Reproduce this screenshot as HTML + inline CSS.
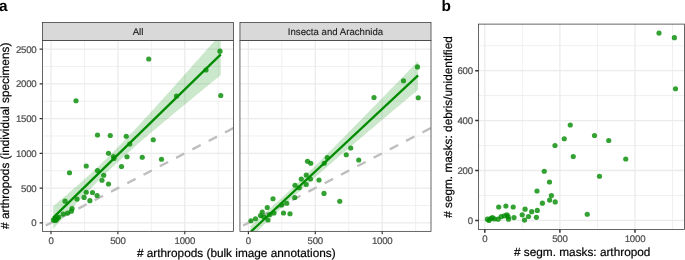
<!DOCTYPE html>
<html lang="en"><head><meta charset="utf-8"><title>Figure</title>
<style>html,body{margin:0;padding:0;background:#fff}body{width:685px;height:260px;overflow:hidden}svg{display:block}text{font-family:"Liberation Sans", Arial, Helvetica, sans-serif;text-rendering:geometricPrecision}.t{font-size:9.65px;fill:#4d4d4d;stroke:#4d4d4d;stroke-width:0.22px;letter-spacing:-0.2px}.s{font-size:9.65px;fill:#1a1a1a;stroke:#1a1a1a;stroke-width:0.12px}.a{font-size:11.8px;fill:#000;stroke:#000;stroke-width:0.2px}.p{font-size:15.4px;font-weight:bold;fill:#000}</style></head><body>
<svg width="685" height="260" viewBox="0 0 685 260">
<rect width="685" height="260" fill="#fff"/>
<clipPath id="ca1"><rect x="42.5" y="40.5" width="191" height="190.85"/></clipPath>
<g clip-path="url(#ca1)">
<rect x="42.5" y="40.5" width="191" height="190.85" fill="#fff"/>
<path d="M84.45,40.5V231.35M151.35,40.5V231.35M218.25,40.5V231.35M42.5,205.43H233.5M42.5,170.69H233.5M42.5,135.95H233.5M42.5,101.21H233.5M42.5,66.47H233.5" stroke="#ebebeb" stroke-width="0.75" fill="none"/>
<path d="M51,40.5V231.35M117.9,40.5V231.35M184.8,40.5V231.35M42.5,222.8H233.5M42.5,188.06H233.5M42.5,153.32H233.5M42.5,118.58H233.5M42.5,83.84H233.5M42.5,49.1H233.5" stroke="#ebebeb" stroke-width="1.3" fill="none"/>
<path d="M45.8,225.5L233.5,128.03" stroke="#bebebe" stroke-width="2.35" stroke-dasharray="9.4 8.95" fill="none"/>
<path d="M53.2,206.26 L56.69,203.31 L60.18,200.35 L63.68,197.37 L67.17,194.38 L70.66,191.37 L74.15,188.33 L77.64,185.27 L81.13,182.18 L84.62,179.06 L88.12,175.91 L91.61,172.71 L95.1,169.48 L98.59,166.2 L102.08,162.87 L105.58,159.5 L109.07,156.08 L112.56,152.61 L116.05,149.09 L119.54,145.53 L123.03,141.92 L126.53,138.28 L130.02,134.6 L133.51,130.89 L137,127.16 L140.49,123.39 L143.98,119.61 L147.48,115.8 L150.97,111.98 L154.46,108.14 L157.95,104.29 L161.44,100.43 L164.93,96.56 L168.43,92.67 L171.92,88.78 L175.41,84.88 L178.9,80.97 L182.39,77.06 L185.88,73.14 L189.38,69.22 L192.87,65.29 L196.36,61.36 L199.85,57.43 L203.34,53.49 L206.83,49.55 L210.33,45.6 L213.82,41.65 L217.31,37.71 L220.8,33.75 L220.8,75.05 L217.31,77.89 L213.82,80.75 L210.33,83.6 L206.83,86.45 L203.34,89.31 L199.85,92.17 L196.36,95.04 L192.87,97.91 L189.38,100.78 L185.88,103.66 L182.39,106.54 L178.9,109.43 L175.41,112.32 L171.92,115.22 L168.43,118.13 L164.93,121.04 L161.44,123.97 L157.95,126.91 L154.46,129.86 L150.97,132.82 L147.48,135.8 L143.98,138.79 L140.49,141.81 L137,144.84 L133.51,147.91 L130.02,151 L126.53,154.12 L123.03,157.28 L119.54,160.47 L116.05,163.71 L112.56,166.99 L109.07,170.32 L105.58,173.7 L102.08,177.13 L98.59,180.6 L95.1,184.12 L91.61,187.69 L88.12,191.29 L84.62,194.94 L81.13,198.62 L77.64,202.33 L74.15,206.07 L70.66,209.83 L67.17,213.62 L63.68,217.43 L60.18,221.25 L56.69,225.09 L53.2,228.94Z" fill="#008b00" fill-opacity="0.2"/>
<g fill="#008b00" fill-opacity="0.8">
<circle cx="148.75" cy="59" r="2.6"/>
<circle cx="220" cy="51.2" r="2.6"/>
<circle cx="76" cy="100.75" r="2.6"/>
<circle cx="206" cy="70" r="2.6"/>
<circle cx="176.5" cy="96" r="2.6"/>
<circle cx="220.75" cy="95.5" r="2.6"/>
<circle cx="97.5" cy="135" r="2.6"/>
<circle cx="110.25" cy="135.5" r="2.6"/>
<circle cx="126.25" cy="136.25" r="2.6"/>
<circle cx="153.25" cy="139.75" r="2.6"/>
<circle cx="129.75" cy="144" r="2.6"/>
<circle cx="108.5" cy="153.25" r="2.6"/>
<circle cx="113.5" cy="156.5" r="2.6"/>
<circle cx="114" cy="158.5" r="2.6"/>
<circle cx="127" cy="156.75" r="2.6"/>
<circle cx="142.25" cy="157.25" r="2.6"/>
<circle cx="161.5" cy="159.25" r="2.6"/>
<circle cx="86.25" cy="166" r="2.6"/>
<circle cx="121.5" cy="166.5" r="2.6"/>
<circle cx="69.5" cy="172.75" r="2.6"/>
<circle cx="97.5" cy="170.5" r="2.6"/>
<circle cx="103.75" cy="175.25" r="2.6"/>
<circle cx="102" cy="180.25" r="2.6"/>
<circle cx="108.5" cy="184" r="2.6"/>
<circle cx="86.25" cy="192.25" r="2.6"/>
<circle cx="92.5" cy="192.5" r="2.6"/>
<circle cx="97.1" cy="195.5" r="2.6"/>
<circle cx="65.1" cy="201.2" r="2.6"/>
<circle cx="77" cy="199.1" r="2.6"/>
<circle cx="84.1" cy="197.4" r="2.6"/>
<circle cx="89.9" cy="200.7" r="2.6"/>
<circle cx="72.1" cy="208.5" r="2.6"/>
<circle cx="71.4" cy="211.2" r="2.6"/>
<circle cx="67.6" cy="213.1" r="2.6"/>
<circle cx="63.2" cy="214" r="2.6"/>
<circle cx="58.8" cy="217" r="2.6"/>
<circle cx="56.3" cy="219.7" r="2.6"/>
<circle cx="53.4" cy="219.9" r="2.6"/>
<circle cx="54.8" cy="218.8" r="2.6"/>
<circle cx="57.5" cy="218.2" r="2.6"/>
<circle cx="55.3" cy="220.4" r="2.6"/>
</g>
<path d="M53.2,217.6L220.8,54.4" stroke="#008b00" stroke-width="2.3" fill="none"/>
</g>
<rect x="42.5" y="40.5" width="191" height="190.85" fill="none" stroke="#333333" stroke-width="0.75"/>
<clipPath id="ca2"><rect x="239.95" y="40.5" width="191.05" height="190.85"/></clipPath>
<g clip-path="url(#ca2)">
<rect x="239.95" y="40.5" width="191.05" height="190.85" fill="#fff"/>
<path d="M281.85,40.5V231.35M348.75,40.5V231.35M415.65,40.5V231.35M239.95,205.43H431M239.95,170.69H431M239.95,135.95H431M239.95,101.21H431M239.95,66.47H431" stroke="#ebebeb" stroke-width="0.75" fill="none"/>
<path d="M248.4,40.5V231.35M315.3,40.5V231.35M382.2,40.5V231.35M239.95,222.8H431M239.95,188.06H431M239.95,153.32H431M239.95,118.58H431M239.95,83.84H431M239.95,49.1H431" stroke="#ebebeb" stroke-width="1.3" fill="none"/>
<path d="M243.25,225.47L431,127.98" stroke="#bebebe" stroke-width="2.35" stroke-dasharray="9.4 8.95" fill="none"/>
<path d="M250.5,225.86 L253.99,222.81 L257.48,219.74 L260.98,216.65 L264.47,213.55 L267.96,210.43 L271.45,207.29 L274.94,204.12 L278.43,200.93 L281.93,197.72 L285.42,194.47 L288.91,191.21 L292.4,187.92 L295.89,184.6 L299.38,181.25 L302.88,177.89 L306.37,174.5 L309.86,171.09 L313.35,167.66 L316.84,164.22 L320.33,160.75 L323.82,157.28 L327.32,153.79 L330.81,150.29 L334.3,146.78 L337.79,143.26 L341.28,139.73 L344.78,136.2 L348.27,132.65 L351.76,129.11 L355.25,125.55 L358.74,121.99 L362.23,118.43 L365.73,114.86 L369.22,111.29 L372.71,107.72 L376.2,104.14 L379.69,100.56 L383.18,96.98 L386.68,93.4 L390.17,89.81 L393.66,86.22 L397.15,82.63 L400.64,79.04 L404.13,75.45 L407.62,71.85 L411.12,68.26 L414.61,64.66 L418.1,61.06 L418.1,89.74 L414.61,92.66 L411.12,95.59 L407.62,98.52 L404.13,101.45 L400.64,104.38 L397.15,107.32 L393.66,110.25 L390.17,113.19 L386.68,116.13 L383.18,119.07 L379.69,122.01 L376.2,124.96 L372.71,127.9 L369.22,130.86 L365.73,133.81 L362.23,136.77 L358.74,139.73 L355.25,142.7 L351.76,145.67 L348.27,148.65 L344.78,151.63 L341.28,154.62 L337.79,157.61 L334.3,160.62 L330.81,163.63 L327.32,166.66 L323.82,169.7 L320.33,172.75 L316.84,175.81 L313.35,178.89 L309.86,181.99 L306.37,185.1 L302.88,188.24 L299.38,191.4 L295.89,194.58 L292.4,197.78 L288.91,201.02 L285.42,204.28 L281.93,207.56 L278.43,210.87 L274.94,214.21 L271.45,217.56 L267.96,220.95 L264.47,224.35 L260.98,227.77 L257.48,231.21 L253.99,234.67 L250.5,238.14Z" fill="#008b00" fill-opacity="0.2"/>
<g fill="#008b00" fill-opacity="0.8">
<circle cx="417.5" cy="66.9" r="2.6"/>
<circle cx="403.5" cy="80.75" r="2.6"/>
<circle cx="374" cy="97.5" r="2.6"/>
<circle cx="418.25" cy="97.75" r="2.6"/>
<circle cx="307.5" cy="161.25" r="2.6"/>
<circle cx="310.75" cy="163.25" r="2.6"/>
<circle cx="327.25" cy="157.5" r="2.6"/>
<circle cx="324.25" cy="163.25" r="2.6"/>
<circle cx="306.25" cy="175" r="2.6"/>
<circle cx="301.25" cy="179" r="2.6"/>
<circle cx="310.5" cy="179" r="2.6"/>
<circle cx="319" cy="180" r="2.6"/>
<circle cx="306.25" cy="184.5" r="2.6"/>
<circle cx="295" cy="185.25" r="2.6"/>
<circle cx="299.25" cy="187.75" r="2.6"/>
<circle cx="324" cy="193.4" r="2.6"/>
<circle cx="350.75" cy="148" r="2.6"/>
<circle cx="346.25" cy="154.75" r="2.6"/>
<circle cx="358.75" cy="160" r="2.6"/>
<circle cx="273" cy="198.75" r="2.6"/>
<circle cx="294.75" cy="197.5" r="2.6"/>
<circle cx="286.75" cy="203.25" r="2.6"/>
<circle cx="281.75" cy="205" r="2.6"/>
<circle cx="267.25" cy="207.5" r="2.6"/>
<circle cx="262.25" cy="212" r="2.6"/>
<circle cx="274" cy="213" r="2.6"/>
<circle cx="283.5" cy="213" r="2.6"/>
<circle cx="290" cy="213.75" r="2.6"/>
<circle cx="269.75" cy="214.5" r="2.6"/>
<circle cx="260.5" cy="215.5" r="2.6"/>
<circle cx="264" cy="217" r="2.6"/>
<circle cx="255.5" cy="218.75" r="2.6"/>
<circle cx="251" cy="220.75" r="2.6"/>
<circle cx="268" cy="220" r="2.6"/>
<circle cx="339.75" cy="201.25" r="2.6"/>
</g>
<path d="M250.5,232L418.1,75.4" stroke="#008b00" stroke-width="2.3" fill="none"/>
</g>
<rect x="239.95" y="40.5" width="191.05" height="190.85" fill="none" stroke="#333333" stroke-width="0.75"/>
<rect x="42.5" y="22.5" width="191" height="18" fill="#d9d9d9" stroke="#333333" stroke-width="0.75"/>
<text x="138" y="34.8" text-anchor="middle" class="s">All</text>
<rect x="239.95" y="22.5" width="191.05" height="18" fill="#d9d9d9" stroke="#333333" stroke-width="0.75"/>
<text x="335.48" y="34.8" text-anchor="middle" class="s">Insecta and Arachnida</text>
<clipPath id="cb"><rect x="478.5" y="24.1" width="206" height="205.3"/></clipPath>
<g clip-path="url(#cb)">
<rect x="478.5" y="24.1" width="206" height="205.3" fill="#fff"/>
<path d="M522.35,24.1V229.4M597.45,24.1V229.4M672.55,24.1V229.4M478.5,195.48H684.5M478.5,145.55H684.5M478.5,95.62H684.5M478.5,45.69H684.5" stroke="#ebebeb" stroke-width="0.75" fill="none"/>
<path d="M484.8,24.1V229.4M559.9,24.1V229.4M635,24.1V229.4M478.5,220.45H684.5M478.5,170.52H684.5M478.5,120.59H684.5M478.5,70.66H684.5" stroke="#ebebeb" stroke-width="1.3" fill="none"/>
<g fill="#008b00" fill-opacity="0.8">
<circle cx="659" cy="33.1" r="2.6"/>
<circle cx="674.4" cy="37.7" r="2.6"/>
<circle cx="675.5" cy="88.75" r="2.6"/>
<circle cx="570.25" cy="125" r="2.6"/>
<circle cx="564.25" cy="138.75" r="2.6"/>
<circle cx="594.5" cy="135.5" r="2.6"/>
<circle cx="608.75" cy="140.5" r="2.6"/>
<circle cx="555" cy="145.5" r="2.6"/>
<circle cx="573.25" cy="156.5" r="2.6"/>
<circle cx="625.75" cy="159" r="2.6"/>
<circle cx="544.25" cy="171.25" r="2.6"/>
<circle cx="599.5" cy="176.25" r="2.6"/>
<circle cx="549.5" cy="182" r="2.6"/>
<circle cx="537" cy="191" r="2.6"/>
<circle cx="551.4" cy="195.6" r="2.6"/>
<circle cx="555.2" cy="201.9" r="2.6"/>
<circle cx="549.6" cy="200.1" r="2.6"/>
<circle cx="542.4" cy="203.2" r="2.6"/>
<circle cx="513.2" cy="207" r="2.6"/>
<circle cx="525.1" cy="209.2" r="2.6"/>
<circle cx="537.3" cy="210.4" r="2.6"/>
<circle cx="531.7" cy="211.7" r="2.6"/>
<circle cx="522.2" cy="214.8" r="2.6"/>
<circle cx="528.5" cy="216.5" r="2.6"/>
<circle cx="536.4" cy="217.3" r="2.6"/>
<circle cx="514" cy="217.6" r="2.6"/>
<circle cx="524.5" cy="220.1" r="2.6"/>
<circle cx="587.25" cy="214.25" r="2.6"/>
<circle cx="498.7" cy="207" r="2.6"/>
<circle cx="505.9" cy="206" r="2.6"/>
<circle cx="508.5" cy="219.2" r="2.6"/>
<circle cx="506.9" cy="214.8" r="2.6"/>
<circle cx="504.4" cy="215.8" r="2.6"/>
<circle cx="501.2" cy="216.7" r="2.6"/>
<circle cx="498.1" cy="219.2" r="2.6"/>
<circle cx="492.4" cy="217.6" r="2.6"/>
<circle cx="494.3" cy="218.9" r="2.6"/>
<circle cx="490.6" cy="218.6" r="2.6"/>
<circle cx="487.4" cy="219.2" r="2.6"/>
<circle cx="489" cy="220.5" r="2.6"/>
<circle cx="508.1" cy="216.7" r="2.6"/>
</g>
</g>
<rect x="478.5" y="24.1" width="206" height="205.3" fill="none" stroke="#333333" stroke-width="0.75"/>
<path d="M51,231.35v2.8M117.9,231.35v2.8M184.8,231.35v2.8" stroke="#333333" stroke-width="1.15" fill="none"/>
<text x="51" y="243.6" text-anchor="middle" class="t">0</text>
<text x="117.9" y="243.6" text-anchor="middle" class="t">500</text>
<text x="184.8" y="243.6" text-anchor="middle" class="t">1000</text>
<path d="M248.4,231.35v2.8M315.3,231.35v2.8M382.2,231.35v2.8" stroke="#333333" stroke-width="1.15" fill="none"/>
<text x="248.4" y="243.6" text-anchor="middle" class="t">0</text>
<text x="315.3" y="243.6" text-anchor="middle" class="t">500</text>
<text x="382.2" y="243.6" text-anchor="middle" class="t">1000</text>
<path d="M42.5,222.8h-2.9M42.5,188.06h-2.9M42.5,153.32h-2.9M42.5,118.58h-2.9M42.5,83.84h-2.9M42.5,49.1h-2.9" stroke="#333333" stroke-width="1.15" fill="none"/>
<text x="36.5" y="226.4" text-anchor="end" class="t">0</text>
<text x="36.5" y="191.66" text-anchor="end" class="t">500</text>
<text x="36.5" y="156.92" text-anchor="end" class="t">1000</text>
<text x="36.5" y="122.18" text-anchor="end" class="t">1500</text>
<text x="36.5" y="87.44" text-anchor="end" class="t">2000</text>
<text x="36.5" y="52.7" text-anchor="end" class="t">2500</text>
<path d="M484.8,229.4v3.3M559.9,229.4v3.3M635,229.4v3.3" stroke="#333333" stroke-width="1.5" fill="none"/>
<text x="484.8" y="241.6" text-anchor="middle" class="t">0</text>
<text x="559.9" y="241.6" text-anchor="middle" class="t">500</text>
<text x="635" y="241.6" text-anchor="middle" class="t">1000</text>
<path d="M478.5,220.45h-3.3M478.5,170.52h-3.3M478.5,120.59h-3.3M478.5,70.66h-3.3" stroke="#333333" stroke-width="1.5" fill="none"/>
<text x="472.9" y="224.05" text-anchor="end" class="t">0</text>
<text x="472.9" y="174.12" text-anchor="end" class="t">200</text>
<text x="472.9" y="124.19" text-anchor="end" class="t">400</text>
<text x="472.9" y="74.26" text-anchor="end" class="t">600</text>
<text x="236.3" y="256.7" text-anchor="middle" class="a"># arthropods (bulk image annotations)</text>
<text transform="translate(9.2,135.8) rotate(-90)" text-anchor="middle" class="a"># arthropods (individual specimens)</text>
<text x="582.2" y="255.8" text-anchor="middle" class="a"># segm. masks: arthropod</text>
<text transform="translate(451.6,127.0) rotate(-90)" text-anchor="middle" class="a"># segm. masks: debris/unidentified</text>
<text x="-0.9" y="10.5" class="p">a</text>
<text x="441.4" y="10.5" class="p">b</text>
</svg></body></html>
